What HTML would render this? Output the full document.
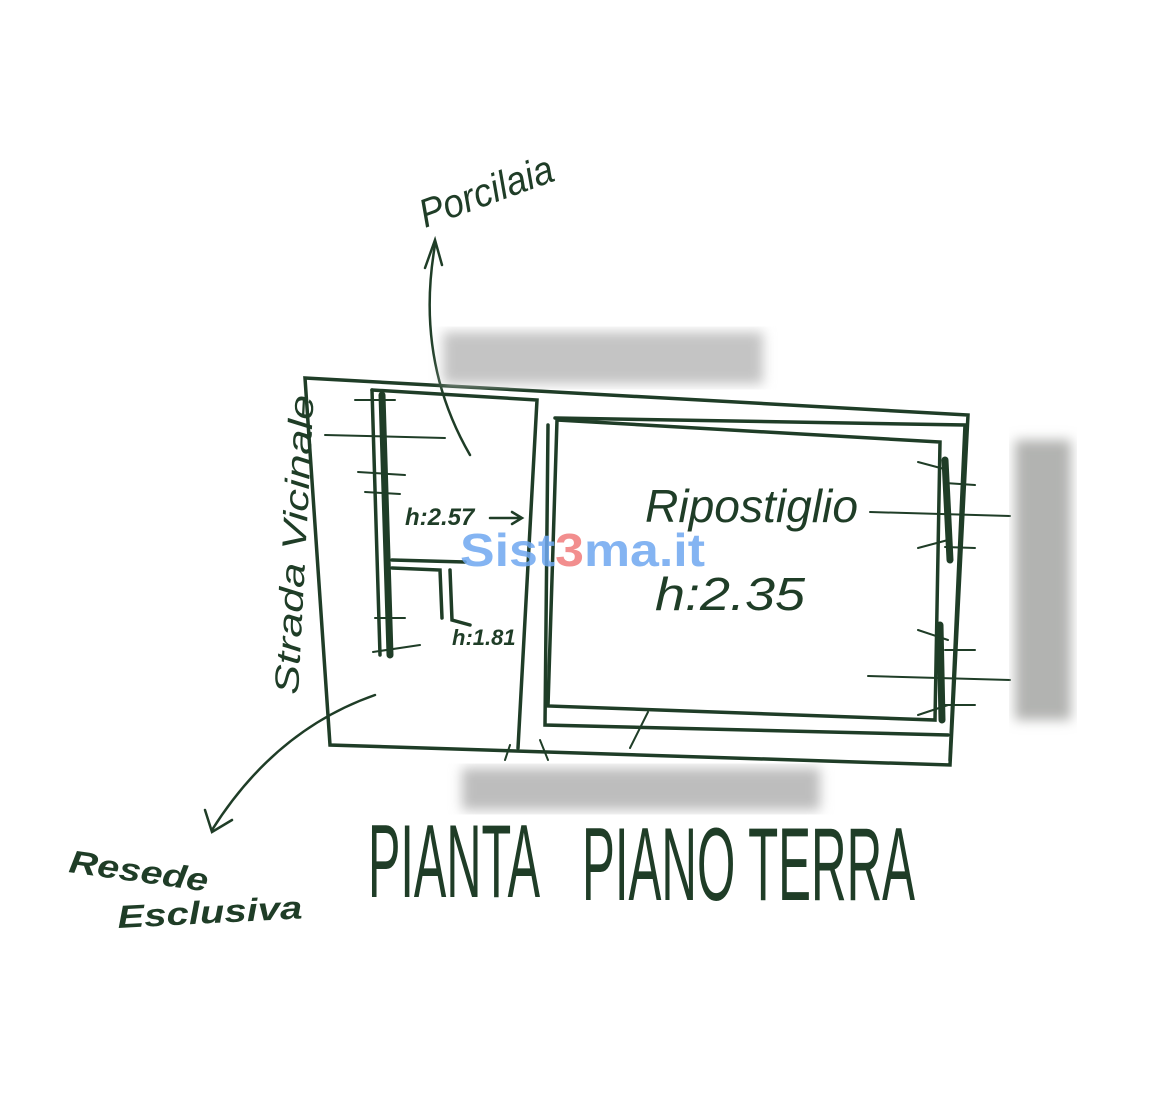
<!DOCTYPE html>
<html><head><meta charset="utf-8"><style>
html,body{margin:0;padding:0;background:#fff;}
svg{display:block;}
.h{font-family:"Liberation Sans",sans-serif;fill:#1f3d27;font-style:italic;}
</style></head><body>
<svg width="1168" height="1096" viewBox="0 0 1168 1096" xmlns="http://www.w3.org/2000/svg">
<defs><filter id="b"><feGaussianBlur stdDeviation="6"/></filter></defs>
<rect width="1168" height="1096" fill="#fff"/>
<g stroke="#1f3d27" fill="none" stroke-width="3.5" stroke-linecap="round">
<path d="M305 378 L968 415 L950 765 L330 745 Z"/>
<path d="M372 390 L537 400 L518 748"/>
<path d="M382 395 L390 655" stroke-width="7"/>
<path d="M372 390 L380 655"/>
<path d="M392 560 L465 562 M392 568 L440 570 L442 618 M450 570 L452 620 L470 625"/>
<path d="M355 400 L395 400 M325 435 L445 438 M358 472 L405 475 M365 492 L400 494 M375 618 L405 618 M373 652 L420 645" stroke-width="2"/>
<path d="M555 418 L965 425 L950 760"/>
<path d="M548 425 L545 725 L948 735"/>
<path d="M557 420 L940 442 L935 720 L548 706 Z"/>
<path d="M945 460 L950 560 M940 625 L942 720" stroke-width="7"/>
<path d="M870 512 L1010 516 M868 676 L1010 680 M918 462 L948 470 M918 548 L948 540 M918 630 L948 640 M918 715 L948 705 M945 483 L975 485 M945 547 L975 548 M945 650 L975 650 M940 705 L975 705" stroke-width="2"/>
<path d="M540 740 L548 760 M630 748 L648 712 M505 760 L510 745" stroke-width="2"/>
<path d="M470 455 Q415 360 435 245" stroke-width="2.5"/>
<path d="M425 268 L435 240 L442 265" stroke-width="2.5"/>
<path d="M375 695 Q275 730 212 830" stroke-width="2.5"/>
<path d="M205 810 L212 832 L232 820" stroke-width="2.5"/>
<path d="M490 518 L520 518 M512 512 L522 518 L512 524" stroke-width="2.5"/>
</g>
<rect x="443" y="332" width="320" height="52" fill="#c4c4c4" filter="url(#b)"/>
<rect x="1015" y="440" width="56" height="280" fill="#b2b3b1" filter="url(#b)"/>
<rect x="462" y="768" width="358" height="42" fill="#bdbdbd" filter="url(#b)"/>
<text class="h" x="425" y="228" font-size="40" textLength="140" lengthAdjust="spacingAndGlyphs" transform="rotate(-20 425 228)">Porcilaia</text>
<text class="h" x="298" y="695" font-size="34" textLength="300" lengthAdjust="spacingAndGlyphs" transform="rotate(-87 298 695)">Strada Vicinale</text>
<text class="h" x="405" y="525" font-size="24" font-weight="bold">h:2.57</text>
<text class="h" x="452" y="645" font-size="22" font-weight="bold">h:1.81</text>
<text class="h" x="645" y="522" font-size="46" textLength="213" lengthAdjust="spacingAndGlyphs">Ripostiglio</text>
<text class="h" x="655" y="610" font-size="46" font-style="normal" textLength="150" lengthAdjust="spacingAndGlyphs">h:2.35</text>
<text class="h" x="68" y="872" font-size="32" font-weight="bold" textLength="140" lengthAdjust="spacingAndGlyphs" transform="rotate(8 68 872)">Resede</text>
<text class="h" x="118" y="928" font-size="32" font-weight="bold" textLength="185" lengthAdjust="spacingAndGlyphs" transform="rotate(-3 118 928)">Esclusiva</text>
<text x="368" y="897" font-family="Liberation Sans Narrow,Liberation Sans,sans-serif" font-size="104" fill="#1f3d27" textLength="172" lengthAdjust="spacingAndGlyphs">PIANTA</text>
<text x="582" y="900" font-family="Liberation Sans Narrow,Liberation Sans,sans-serif" font-size="104" fill="#1f3d27" textLength="333" lengthAdjust="spacingAndGlyphs">PIANO TERRA</text>
<text x="460" y="566" font-family="Liberation Sans,sans-serif" font-size="46" font-weight="bold" fill="#6fa8f0" opacity="0.85" textLength="245" lengthAdjust="spacingAndGlyphs">Sist<tspan fill="#f07b7b">3</tspan>ma.it</text>
</svg>
</body></html>
